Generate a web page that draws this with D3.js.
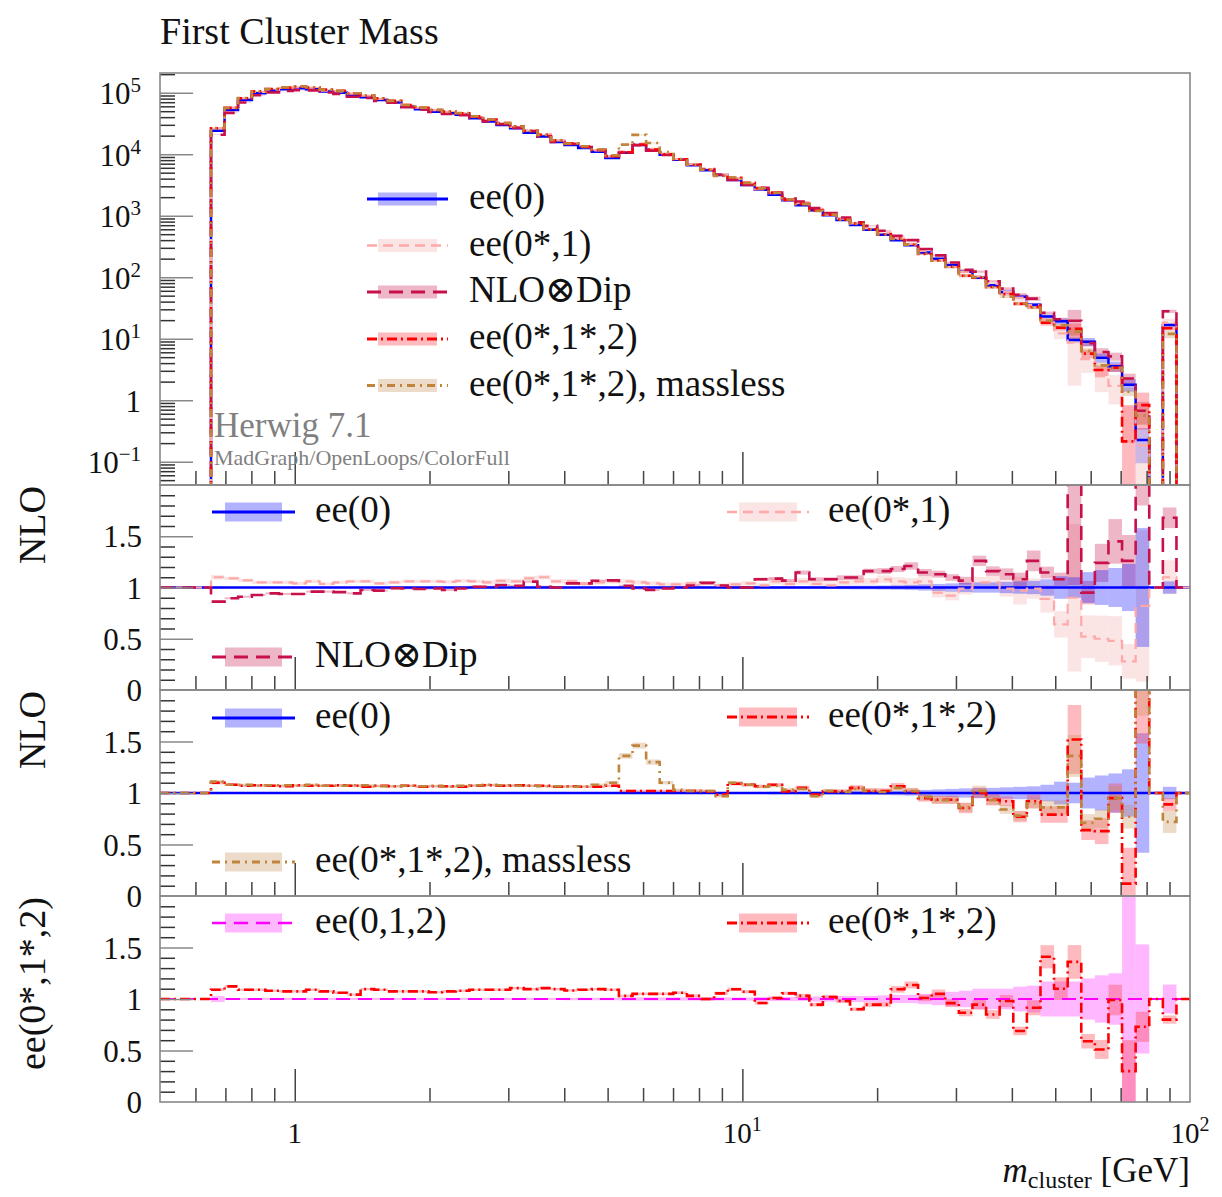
<!DOCTYPE html>
<html><head><meta charset="utf-8">
<script src="https://cdn.jsdelivr.net/npm/d3@7"></script>
<style>body{margin:0;background:#fff;} svg{display:block;font-family:"Liberation Serif","DejaVu Serif",serif;}</style>
</head><body><svg id="c" width="1222" height="1197"></svg>
<script>
// ---------------- DATA ----------------
const edges = [0.650,0.697,0.747,0.802,0.860,0.922,0.989,1.060,1.137,1.220,1.308,1.403,1.505,1.614,1.730,1.856,1.990,2.134,2.289,2.455,2.633,2.823,3.028,3.247,3.483,3.735,4.006,4.296,4.607,4.941,5.299,5.683,6.095,6.536,7.010,7.518,8.062,8.647,9.273,9.945,10.66,11.44,12.27,13.15,14.11,15.13,16.23,17.40,18.66,20.01,21.46,23.02,24.69,26.48,28.40,30.45,32.66,35.03,37.56,40.29,43.21,46.34,49.69,53.30,57.16,61.30,65.74,70.50,75.61,81.09,86.97,93.27,100];

// ee(0) reference distribution (main panel)
const ee0 = [24000,52500,75900,97700,107000,113500,117500,113500,104700,100000,
91200,84100,75900,69200,58900,53700,49000,46200,43600,38500,
33900,29900,26300,22400,19300,15800,14100,12600,11000,8700,
10500,14100,11700,9800,8100,6600,5500,4570,3800,3160,
2630,2190,1780,1480,1230,1020,851,708,589,490,
398,331,251,200,158,123,97.7,74.1,57.5,47.9,
35.5,22.9,19.1,9.55,8.91,4.90,3.55,1.78,0.224,0,
16.6,0];
const eBlue = [0.008,0.006,0.006,0.006,0.006,0.006,0.006,0.006,0.006,0.006,
0.006,0.006,0.006,0.006,0.006,0.006,0.006,0.006,0.006,0.006,
0.006,0.006,0.006,0.006,0.006,0.006,0.006,0.006,0.006,0.006,
0.008,0.008,0.008,0.008,0.008,0.008,0.008,0.008,0.008,0.008,
0.01,0.012,0.012,0.012,0.012,0.014,0.016,0.018,0.018,0.02,
0.022,0.025,0.03,0.035,0.04,0.045,0.05,0.05,0.055,0.06,
0.065,0.08,0.11,0.10,0.15,0.17,0.19,0.23,0.58,0,
0.06,0];

// ratios to ee(0)
const rPink = [1.10,1.09,1.07,1.05,1.05,1.05,1.04,1.06,1.035,1.05,
1.06,1.06,1.04,1.05,1.06,1.06,1.06,1.055,1.065,1.06,
1.05,1.065,1.06,1.09,1.10,1.06,1.06,1.035,1.05,1.06,
1.06,1.05,1.04,1.03,1.03,1.04,1.04,1.02,1.03,1.04,
1.02,1.06,1.035,1.06,1.035,1.02,1.05,1.06,1.06,1.08,
1.06,1.05,1.06,0.95,0.92,0.99,1.05,1.05,0.99,0.97,
0.99,0.89,0.64,0.90,0.52,0.50,0.48,0.28,0.82,1,
1.10,1];
const ePink = [0.02,0.015,0.015,0.015,0.015,0.015,0.015,0.015,0.015,0.015,
0.015,0.015,0.015,0.015,0.015,0.015,0.015,0.015,0.015,0.015,
0.02,0.02,0.02,0.02,0.02,0.02,0.02,0.02,0.02,0.02,
0.02,0.02,0.02,0.02,0.02,0.02,0.02,0.02,0.02,0.02,
0.025,0.03,0.03,0.03,0.03,0.03,0.03,0.03,0.03,0.035,
0.04,0.04,0.05,0.05,0.05,0.06,0.05,0.06,0.08,0.14,
0.10,0.15,0.20,0.8,0.4,0.45,0.5,0.6,0.9,0,
0.15,0];
const rCrim = [0.862,0.895,0.91,0.927,0.943,0.937,0.937,0.96,0.96,0.955,
0.943,0.976,0.97,0.992,0.99,0.985,0.99,0.976,0.99,1.008,
1.008,1.024,1.016,1.057,1.008,1.0,1.04,1.04,1.066,1.07,
1.016,0.99,0.976,0.99,1.0,1.02,1.045,1.02,1.0,1.0,
1.08,1.087,1.067,1.146,1.08,1.08,1.097,1.097,1.16,1.16,
1.18,1.21,1.146,1.13,1.097,1.067,1.26,1.16,1.13,1.08,
1.26,1.146,1.08,2.05,0.95,1.24,1.45,1.26,3.0,1,
1.68,1];
const eCrim = [0.012,0.01,0.01,0.01,0.01,0.01,0.01,0.01,0.01,0.01,
0.01,0.01,0.01,0.01,0.01,0.01,0.01,0.01,0.01,0.01,
0.01,0.01,0.01,0.01,0.01,0.01,0.01,0.01,0.01,0.01,
0.01,0.01,0.01,0.01,0.012,0.012,0.012,0.012,0.012,0.012,
0.015,0.015,0.015,0.018,0.018,0.018,0.02,0.02,0.02,0.025,
0.025,0.03,0.03,0.03,0.03,0.035,0.04,0.04,0.05,0.06,
0.08,0.05,0.06,0.5,0.12,0.15,0.15,0.2,0.4,0,
0.06,0];
const rRed = [1.10,1.08,1.07,1.075,1.07,1.065,1.075,1.07,1.07,1.075,
1.07,1.06,1.07,1.065,1.07,1.06,1.065,1.065,1.06,1.07,
1.075,1.07,1.075,1.07,1.07,1.06,1.065,1.06,1.06,1.07,
1.02,1.02,1.02,1.02,1.02,1.02,1.016,0.984,1.09,1.08,
1.065,1.08,1.016,1.05,0.984,1.016,1.016,1.05,1.02,1.02,
1.065,1.016,0.95,0.935,0.935,0.855,1.0,0.935,0.92,0.77,
0.92,0.79,0.79,1.52,0.64,0.63,0.95,0.12,3.7,1,
0.89,1];
const eRed = [0.015,0.01,0.01,0.01,0.01,0.01,0.01,0.01,0.01,0.01,
0.01,0.01,0.01,0.01,0.01,0.01,0.01,0.01,0.01,0.01,
0.01,0.01,0.01,0.01,0.01,0.01,0.01,0.01,0.01,0.012,
0.012,0.012,0.012,0.012,0.012,0.015,0.015,0.015,0.015,0.015,
0.015,0.015,0.02,0.02,0.02,0.02,0.02,0.025,0.025,0.025,
0.03,0.03,0.035,0.04,0.04,0.06,0.05,0.06,0.05,0.07,
0.07,0.1,0.1,0.22,0.15,0.2,0.15,2.9,0.6,0,
0.07,0];
const rTan = [1.11,1.08,1.08,1.07,1.075,1.075,1.07,1.08,1.07,1.07,
1.075,1.075,1.065,1.065,1.07,1.065,1.07,1.06,1.07,1.075,
1.08,1.075,1.07,1.07,1.065,1.065,1.06,1.065,1.08,1.10,
1.36,1.46,1.30,1.10,1.03,1.02,1.02,0.97,1.10,1.08,
1.06,1.07,1.03,1.04,0.97,1.02,1.01,1.04,1.02,1.01,
1.05,1.02,0.96,0.93,0.93,0.86,1.02,0.93,0.84,0.78,
0.90,0.86,0.86,1.36,0.71,0.75,0.95,0.77,2.5,1,
0.72,1];
const eTan = [0.015,0.01,0.01,0.01,0.01,0.01,0.01,0.01,0.01,0.01,
0.01,0.01,0.01,0.01,0.01,0.01,0.01,0.01,0.01,0.01,
0.01,0.01,0.01,0.01,0.01,0.01,0.01,0.01,0.01,0.015,
0.02,0.02,0.02,0.015,0.012,0.015,0.015,0.015,0.015,0.015,
0.015,0.015,0.02,0.02,0.02,0.02,0.02,0.025,0.025,0.025,
0.03,0.03,0.035,0.04,0.04,0.05,0.05,0.05,0.05,0.06,
0.06,0.08,0.08,0.15,0.12,0.12,0.12,0.15,0.3,0,
0.15,0];
// ratios to ee(0,1,2)
const r3Red = [1.09,1.123,1.09,1.09,1.08,1.074,1.074,1.09,1.074,1.06,
1.042,1.096,1.09,1.074,1.074,1.074,1.065,1.074,1.08,1.09,
1.09,1.09,1.106,1.096,1.106,1.096,1.083,1.09,1.096,1.09,
1.03,1.05,1.05,1.05,1.06,1.03,1.0,1.055,1.094,1.07,
0.961,1.01,1.055,1.03,0.945,1.02,0.98,0.9,0.945,0.945,
1.094,1.136,1.01,1.05,0.96,0.867,0.945,0.85,0.98,0.69,
0.915,1.41,1.1,1.36,0.59,0.51,0.99,0.3,0.73,1,
0.8,1];
const e3Red = [0.012,0.01,0.01,0.01,0.01,0.01,0.01,0.01,0.01,0.01,
0.01,0.01,0.01,0.01,0.01,0.01,0.01,0.01,0.01,0.01,
0.01,0.01,0.01,0.01,0.01,0.01,0.01,0.01,0.01,0.01,
0.012,0.012,0.012,0.012,0.012,0.015,0.015,0.015,0.015,0.015,
0.015,0.015,0.015,0.02,0.02,0.02,0.02,0.02,0.025,0.025,
0.03,0.03,0.03,0.04,0.04,0.04,0.05,0.05,0.06,0.06,
0.08,0.08,0.1,0.12,0.12,0.18,0.15,1.0,0.2,0,
0.05,0];
const eMag = [0.03,0.01,0.01,0.01,0.01,0.01,0.01,0.01,0.01,0.01,
0.01,0.01,0.01,0.01,0.01,0.01,0.01,0.01,0.01,0.01,
0.01,0.01,0.01,0.01,0.01,0.01,0.012,0.012,0.012,0.012,
0.015,0.015,0.015,0.015,0.015,0.015,0.015,0.015,0.015,0.015,
0.02,0.02,0.02,0.02,0.025,0.025,0.03,0.03,0.03,0.035,
0.04,0.04,0.05,0.06,0.07,0.08,0.1,0.1,0.1,0.12,
0.13,0.17,0.17,0.17,0.2,0.23,0.25,1.05,0.53,0,
0.14,0];

const mainYMajor = [1e-1,1,1e1,1e2,1e3,1e4,1e5];
const ratioYLabels = [1.5,1,0.5,0];
const xLabels = [1,10,100];
const legendLabels = {blue:'ee(0)', pink:'ee(0*,1)', crim:'NLO\u2297Dip', red:'ee(0*,1*,2)', tan:'ee(0*,1*,2), massless', mag:'ee(0,1,2)'};

// ---------------- STYLES ----------------
const S = {
  blue:{color:'#0000ff', dash:null, band:'#0000ff', op:0.3, w:2.5},
  pink:{color:'#ffa8a8', dash:'10,6', band:'#f2bcbc', op:0.4, w:2.2},
  crim:{color:'#c8104a', dash:'14,8', band:'#c8104a', op:0.3, w:2.6},
  red:{color:'#ff0000', dash:'10,4,2,4', band:'#ff3848', op:0.35, w:2.6},
  tan:{color:'#c0843c', dash:'8,5,2,5', band:'#c8905a', op:0.32, w:2.6},
  mag:{color:'#ff00ff', dash:'14,8', band:'#ff00ff', op:0.28, w:2.2}
};

// ---------------- SCALES ----------------
const svg = d3.select('#c');
const L=160, R=1190;
const x = d3.scaleLog().domain([0.5,100]).range([L,R]);
const mainP = {top:73, bot:485};
const yMain = d3.scaleLog().domain([Math.pow(10,-1.38), Math.pow(10,5.32)]).range([mainP.bot, mainP.top]);
const ratioP = [{top:485,bot:690},{top:690,bot:896},{top:896,bot:1102}];
const yR = ratioP.map(p => d3.scaleLinear().domain([0,2]).range([p.bot,p.top]));
const TINY = 1e-4;
const defs = svg.append('defs');
function clipFor(id,p){ defs.append('clipPath').attr('id',id).append('rect').attr('x',L).attr('y',p.top).attr('width',R-L).attr('height',p.bot-p.top); return 'url(#'+id+')'; }

function mainPts(v){ const pts=[[0.5,TINY],[edges[0],TINY]]; v.forEach((d,i)=>{const yy=d>0?d:TINY; pts.push([edges[i],yy],[edges[i+1],yy]);}); return pts; }
function ratioPts(r){ const pts=[[0.5,1],[edges[0],1]]; r.forEach((d,i)=>{pts.push([edges[i],d],[edges[i+1],d]);}); return pts; }

function drawBands(g, vals, errs, y, st, isLog){
  const data = vals.map((v,i)=>({v, e:errs[i], i})).filter(d=>d.v>0 && d.e>0);
  g.selectAll(null).data(data).enter().append('rect')
    .attr('x', d=>x(edges[d.i])).attr('width', d=>x(edges[d.i+1])-x(edges[d.i]))
    .attr('y', d=>y(d.v*(1+d.e)))
    .attr('height', d=>{ let lo=d.v*(1-d.e); if(isLog) lo=Math.max(lo,TINY); return y(lo)-y(d.v*(1+d.e)); })
    .attr('fill', st.band).attr('fill-opacity', st.op);
}
function drawLine(g, pts, y, st){
  g.append('path').attr('d', d3.line().x(d=>x(d[0])).y(d=>y(d[1]))(pts))
    .attr('fill','none').attr('stroke',st.color).attr('stroke-width',st.w)
    .attr('stroke-dasharray', st.dash).attr('stroke-linejoin','miter');
}

// ---------------- MAIN PANEL ----------------
const mainSeries = [
  {st:S.blue, v:ee0, e:eBlue},
  {st:S.pink, v:ee0.map((d,i)=>d*rPink[i]), e:ePink},
  {st:S.crim, v:ee0.map((d,i)=>d*rCrim[i]), e:eCrim},
  {st:S.red,  v:ee0.map((d,i)=>d*rRed[i]),  e:eRed},
  {st:S.tan,  v:ee0.map((d,i)=>d*rTan[i]),  e:eTan}
];
const gMain = svg.append('g').attr('clip-path', clipFor('cm', mainP));
mainSeries.forEach(s=>drawBands(gMain, s.v, s.e, yMain, s.st, true));
mainSeries.forEach(s=>drawLine(gMain, mainPts(s.v), yMain, s.st));

// ---------------- RATIO PANELS ----------------
const ones = ee0.map(d=>d>0?d/d:0);
const onesLine = ee0.map(()=>1);
const ratioDefs = [
  [{st:S.pink,r:rPink,e:ePink},{st:S.crim,r:rCrim,e:eCrim},{st:S.blue,r:ones,e:eBlue,line:onesLine}],
  [{st:S.blue,r:ones,e:eBlue,line:onesLine},{st:S.red,r:rRed,e:eRed},{st:S.tan,r:rTan,e:eTan}],
  [{st:S.mag,r:ones,e:eMag,line:onesLine},{st:S.red,r:r3Red,e:e3Red}]
];
const lineOrder = [[2,0,1],[0,1,2],[0,1]];
ratioDefs.forEach((defsP,pi)=>{
  const g = svg.append('g').attr('clip-path', clipFor('cr'+pi, ratioP[pi]));
  defsP.forEach(s=>drawBands(g, s.r.map((d,i)=>ee0[i]>0?d:0), s.e, yR[pi], s.st, false));
  lineOrder[pi].forEach(k=>{ const s=defsP[k]; drawLine(g, ratioPts(s.line||s.r), yR[pi], s.st); });
});

// ---------------- AXES ----------------
function styleAxis(g, color){ g.select('.domain').remove(); g.selectAll('line').attr('stroke',color).attr('stroke-width',1.5); g.selectAll('text').remove(); }
// main y
const mainTicks = yMain.ticks();
const mainMinor = mainTicks.filter(t=>!mainYMajor.some(m=>Math.abs(m-t)/m<1e-6));
styleAxis(svg.append('g').attr('transform',`translate(${L},0)`).call(d3.axisLeft(yMain).tickValues(mainMinor).tickSizeInner(-15).tickSizeOuter(0)), '#333');
styleAxis(svg.append('g').attr('transform',`translate(${L},0)`).call(d3.axisLeft(yMain).tickValues(mainYMajor).tickSizeInner(-33).tickSizeOuter(0)), '#888');
mainYMajor.forEach(v=>{
  const n = Math.round(Math.log10(v));
  const t = svg.append('text').attr('x',141).attr('y',yMain(v)).attr('dy','0.38em').attr('text-anchor','end').attr('font-size',31).attr('fill','#111');
  if(n===0){ t.text('1'); }
  else { t.append('tspan').text('10'); t.append('tspan').attr('font-size',21).attr('dy',-12).text(n<0?'\u22121':String(n)); }
});
// ratio y
yR.forEach((y,pi)=>{
  const tk = y.ticks(20).filter(t=>t>0 && t<2);
  const major = tk.filter(t=>Math.abs(t*2-Math.round(t*2))<1e-6);
  const minor = tk.filter(t=>!major.includes(t));
  styleAxis(svg.append('g').attr('transform',`translate(${L},0)`).call(d3.axisLeft(y).tickValues(minor).tickSizeInner(-15).tickSizeOuter(0)), '#333');
  styleAxis(svg.append('g').attr('transform',`translate(${L},0)`).call(d3.axisLeft(y).tickValues(major).tickSizeInner(-33).tickSizeOuter(0)), '#888');
  ratioYLabels.forEach(v=>{
    svg.append('text').attr('x',142).attr('y',y(v)).attr('dy','0.36em').attr('text-anchor','end').attr('font-size',31).attr('fill','#111').text(String(v));
  });
});
// x ticks for each panel
const xt = x.ticks().filter(t=>t>0.5 && t<100);
const xMajor = xt.filter(t=>[1,10].includes(t));
const xMinor = xt.filter(t=>![1,10].includes(t));
[mainP.bot, ...ratioP.map(p=>p.bot)].forEach(by=>{
  styleAxis(svg.append('g').attr('transform',`translate(0,${by})`).call(d3.axisBottom(x).tickValues(xMinor).tickSizeInner(-14).tickSizeOuter(0)), '#444');
  styleAxis(svg.append('g').attr('transform',`translate(0,${by})`).call(d3.axisBottom(x).tickValues(xMajor).tickSizeInner(-33).tickSizeOuter(0)), '#444');
});
xLabels.forEach(v=>{
  const n = Math.round(Math.log10(v));
  const t = svg.append('text').attr('x',x(v)).attr('y',1143).attr('text-anchor','middle').attr('font-size',29).attr('fill','#111');
  if(n===0) t.text('1'); else { t.append('tspan').text('10'); t.append('tspan').attr('font-size',20).attr('dy',-12).text(String(n)); }
});

// frames
[mainP, ...ratioP].forEach(p=>{
  svg.append('rect').attr('x',L).attr('y',p.top).attr('width',R-L).attr('height',p.bot-p.top)
    .attr('fill','none').attr('stroke','#888').attr('stroke-width',1.6);
});

// ---------------- TEXT ----------------
svg.append('text').attr('x',160).attr('y',44).attr('font-size',38).attr('fill','#111').text('First Cluster Mass');
svg.append('text').attr('x',214).attr('y',437).attr('font-size',35).attr('fill','#808080').text('Herwig 7.1');
svg.append('text').attr('x',214).attr('y',465).attr('font-size',22).attr('fill','#808080').text('MadGraph/OpenLoops/ColorFull');

const xt2 = svg.append('text').attr('x',1190).attr('y',1182).attr('text-anchor','end').attr('font-size',35).attr('fill','#111');
xt2.append('tspan').attr('font-style','italic').text('m');
xt2.append('tspan').attr('font-size',24).attr('dy',6).text('cluster');
xt2.append('tspan').attr('dy',-6).text(' [GeV]');

const yTitles = [{t:'NLO',p:ratioP[0]},{t:'NLO',p:ratioP[1]},{t:'ee(0*,1*,2)',p:ratioP[2]}];
yTitles.forEach(d=>{
  svg.append('text').attr('transform',`translate(45,${d.p.top+1}) rotate(-90)`).attr('text-anchor','end')
    .attr('font-size',38).attr('fill','#111').text(d.t);
});

// ---------------- LEGENDS ----------------
function legendEntry(st, label, x0, x1, bx0, bx1, bh, tx, yy){
  svg.append('rect').attr('x',bx0).attr('y',yy-bh/2).attr('width',bx1-bx0).attr('height',bh).attr('fill',st.band).attr('fill-opacity',st.op);
  svg.append('line').attr('x1',x0).attr('x2',x1).attr('y1',yy).attr('y2',yy).attr('stroke',st.color).attr('stroke-width',st.w+0.5).attr('stroke-dasharray',st.dash);
  svg.append('text').attr('x',tx).attr('y',yy+10).attr('font-size',37).attr('fill','#111').text(label);
}
[['blue',199],['pink',245.5],['crim',292],['red',339],['tan',385.5]].forEach(([k,yy])=>legendEntry(S[k], legendLabels[k], 367,448,378,437,13,469,yy));
const LEFT=[212,295,225,282,19,315], RIGHT=[727,809,739,797,19,828];
[['blue',LEFT,512],['pink',RIGHT,512],['crim',LEFT,657],
 ['blue',LEFT,718],['red',RIGHT,717],['tan',LEFT,862],
 ['mag',LEFT,923],['red',RIGHT,923]].forEach(([k,P,yy])=>legendEntry(S[k], legendLabels[k], P[0],P[1],P[2],P[3],P[4],P[5],yy));
</script></body></html>
